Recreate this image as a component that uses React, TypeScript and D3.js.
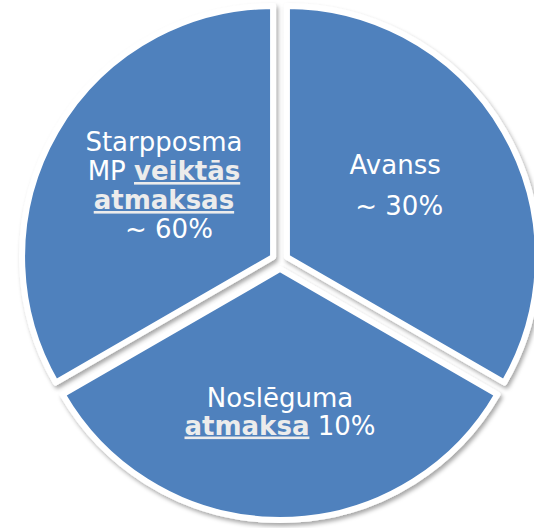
import React from "react";
import * as d3 from "d3";

// ---- data ----
const sliceNames = ["Avanss", "Noslēguma", "Starpposma"];
const sliceWeights = [1, 1, 1];
const shareLabels = ["~ 30%", "10%", "~ 60%"];

const W = 534;
const H = 528;
const CX = 280;
const CY = 261;
const R = 251;
const EXPLODE = 8;
const FILL = "#4f81bd";
const FONT = "'DejaVu Sans', Verdana, sans-serif";
const FS = 26;
const BOLD_FILL = "#ececec";

type Line = { dy: number; dx?: number; parts: { t: string; bold?: boolean }[] };

export default function App() {
  const pie = d3
    .pie<number>()
    .sort(null)
    .value((d) => d)
    .startAngle(0)
    .endAngle(2 * Math.PI);
  const arcs = pie(sliceWeights);
  const arc = d3.arc<d3.PieArcDatum<number>>().innerRadius(0).outerRadius(R);

  const labelRadius = [125, 151, 126];
  const lines: Line[][] = [
    [
      { dy: -21, parts: [{ t: sliceNames[0] }] },
      { dy: 20, dx: 4, parts: [{ t: shareLabels[0] }] },
    ],
    [
      { dy: -13.5, parts: [{ t: sliceNames[1] }] },
      {
        dy: 14.5,
        dx: 0,
        parts: [{ t: "atmaksa", bold: true }, { t: "\u00a0" + shareLabels[1] }],
      },
    ],
    [
      { dy: -43, parts: [{ t: sliceNames[2] }] },
      { dy: -14, parts: [{ t: "MP " }, { t: "veiktās", bold: true }] },
      { dy: 15, parts: [{ t: "atmaksas", bold: true }] },
      { dy: 44, dx: 5, parts: [{ t: shareLabels[2] }] },
    ],
  ];

  return (
    <div style={{ position: "absolute", left: 0, top: 0 }}>
      <svg width={W} height={H} style={{ display: "block" }}>
        <defs>
          <filter id="sh" x="-20%" y="-20%" width="140%" height="140%">
            <feDropShadow dx="2" dy="3" stdDeviation="2" floodColor="#000" floodOpacity="0.35" />
          </filter>
        </defs>
        <rect width={W} height={H} fill="#fff" />
        {arcs.map((a, i) => {
          const mid = (a.startAngle + a.endAngle) / 2;
          const ux = Math.sin(mid);
          const uy = -Math.cos(mid);
          const sx = CX + ux * EXPLODE;
          const sy = CY + uy * EXPLODE;
          return (
            <g key={i} transform={`translate(${sx},${sy})`}>
              <path
                d={arc(a) || ""}
                fill={FILL}
                stroke="#fff"
                strokeWidth={6}
                strokeLinejoin="round"
                filter="url(#sh)"
              />
            </g>
          );
        })}
        {arcs.map((a, i) => {
          const mid = (a.startAngle + a.endAngle) / 2;
          const ux = Math.sin(mid);
          const uy = -Math.cos(mid);
          const ax = CX + ux * (EXPLODE + labelRadius[i]);
          const ay = CY + uy * (EXPLODE + labelRadius[i]);
          return (
            <g key={"l" + i}>
              {lines[i].map((ln, j) => (
                <text
                  key={j}
                  x={ax + (ln.dx || 0)}
                  y={ay + ln.dy}
                  textAnchor="middle"
                  fontFamily={FONT}
                  fontSize={FS}
                  fill="#fff"
                >
                  {ln.parts.map((p, k) => (
                    <tspan
                      key={k}
                      fontWeight={p.bold ? "bold" : "normal"}
                      fill={p.bold ? BOLD_FILL : "#fff"}
                      style={p.bold ? { textDecoration: "underline" } : undefined}
                    >
                      {p.t}
                    </tspan>
                  ))}
                </text>
              ))}
            </g>
          );
        })}
      </svg>
    </div>
  );
}
